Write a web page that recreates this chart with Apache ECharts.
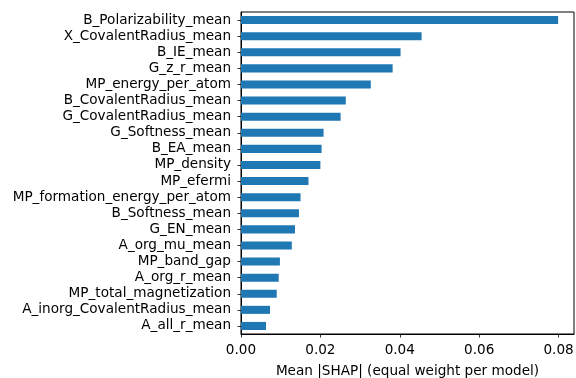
<!DOCTYPE html>
<html>
<head>
<meta charset="utf-8">
<script src="https://cdn.jsdelivr.net/npm/echarts@6/dist/echarts.min.js"></script>
<style>html,body{margin:0;padding:0;background:#fff;}#c{width:576px;height:378px;}</style>
</head>
<body>
<div id="c"></div>
<script>
const categories = [
  "B_Polarizability_mean","X_CovalentRadius_mean","B_IE_mean","G_z_r_mean",
  "MP_energy_per_atom","B_CovalentRadius_mean","G_CovalentRadius_mean","G_Softness_mean",
  "B_EA_mean","MP_density","MP_efermi","MP_formation_energy_per_atom",
  "B_Softness_mean","G_EN_mean","A_org_mu_mean","MP_band_gap",
  "A_org_r_mean","MP_total_magnetization","A_inorg_CovalentRadius_mean","A_all_r_mean"
];
const values = [
  0.0799,0.0455,0.0402,0.0382,
  0.0327,0.0264,0.0251,0.0208,
  0.0203,0.0200,0.0170,0.0150,
  0.0146,0.0136,0.0128,0.0098,
  0.0095,0.0090,0.0073,0.0063
];
const xTicks = [0, 0.02, 0.04, 0.06, 0.08];
const xLabel = "Mean |SHAP| (equal weight per model)";

const font = "DejaVu Sans";
const fs = 13.6;
const chart = echarts.init(document.getElementById('c'), null, {renderer: 'canvas'});
chart.setOption({
  animation: false,
  backgroundColor: '#fff',
  grid: {left: 241, right: 2, top: 12, bottom: 44, show: true, borderColor: '#000', borderWidth: 1,
         containLabel: false, outerBoundsMode: 'none'},
  xAxis: {
    type: 'value',
    min: 0,
    max: Math.max(...values) * 1.05,
    interval: 0.02,
    splitLine: {show: false},
    axisLine: {show: true, lineStyle: {color: '#000', width: 1}},
    axisTick: {show: true, length: 3.5, lineStyle: {color: '#000', width: 0.8}},
    axisLabel: {
      color: '#000', fontFamily: font, fontSize: fs, margin: 9,
      showMaxLabel: false,
      formatter: function (v) {
        for (const t of xTicks) { if (Math.abs(v - t) < 1e-9) return t.toFixed(2); }
        return '';
      }
    },
    name: xLabel,
    nameLocation: 'middle',
    nameGap: 30,
    nameTextStyle: {color: '#000', fontFamily: font, fontSize: fs}
  },
  yAxis: {
    type: 'category',
    data: categories,
    inverse: true,
    axisLine: {show: true, lineStyle: {color: '#000', width: 1}},
    axisTick: {show: true, alignWithLabel: true, length: 3.5, lineStyle: {color: '#000', width: 0.8}},
    axisLabel: {color: '#000', fontFamily: font, fontSize: fs, margin: 10, interval: 0},
    splitLine: {show: false}
  },
  series: [{
    type: 'bar',
    data: values,
    barWidth: '50%',
    itemStyle: {color: '#1f77b4'}
  }]
});
</script>
</body>
</html>
